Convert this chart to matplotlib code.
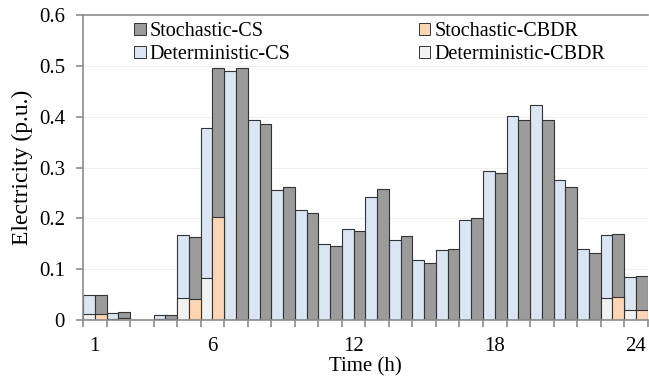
import numpy as np
import matplotlib
matplotlib.use("Agg")
import matplotlib.pyplot as plt
from matplotlib.patches import Patch

plt.rcParams['font.family'] = ['Liberation Serif', 'DejaVu Serif']

hours = np.arange(1, 25)
stoch_cs = [0.050, 0.017, 0.0, 0.010, 0.163, 0.495, 0.496, 0.385, 0.262, 0.210, 0.146, 0.175,
            0.258, 0.166, 0.113, 0.139, 0.201, 0.290, 0.394, 0.394, 0.262, 0.133, 0.170, 0.086]
det_cs = [0.050, 0.015, 0.0, 0.010, 0.168, 0.377, 0.490, 0.393, 0.255, 0.216, 0.149, 0.179,
          0.243, 0.157, 0.118, 0.138, 0.196, 0.294, 0.401, 0.422, 0.276, 0.139, 0.168, 0.084]
stoch_cbdr = [0.012, 0.004, 0.0, 0.002, 0.042, 0.202, 0, 0, 0, 0, 0, 0,
              0, 0, 0, 0, 0, 0, 0, 0, 0, 0, 0.045, 0.021]
det_cbdr = [0.012, 0.003, 0.0, 0.002, 0.044, 0.083, 0, 0, 0, 0, 0, 0,
            0, 0, 0, 0, 0, 0, 0, 0, 0, 0, 0.043, 0.021]
tick_hours = [1, 6, 12, 18, 24]
y_ticks = [0, 0.1, 0.2, 0.3, 0.4, 0.5, 0.6]
y_labels = ['0', '0.1', '0.2', '0.3', '0.4', '0.5', '0.6']

c_stoch_cs = '#9b9b9b'
c_det_cs = '#dce6f2'
c_stoch_cbdr = '#fcd5b5'
c_det_cbdr = '#f2f2f2'
edge = '#333333'
axis_col = '#8c8c8c'

fig = plt.figure(figsize=(6.49, 3.83), dpi=100)
ax = fig.add_axes([0.128, 0.164, 0.870, 0.797])

w = 0.5
kw = dict(width=w, edgecolor=edge, linewidth=0.8, zorder=2)
ax.bar(hours - 0.25, det_cs, color=c_det_cs, **kw)
ax.bar(hours + 0.25, stoch_cs, color=c_stoch_cs, **kw)
ax.bar(hours - 0.25, det_cbdr, color=c_det_cbdr, **kw)
ax.bar(hours + 0.25, stoch_cbdr, color=c_stoch_cbdr, **kw)

ax.set_xlim(0.5, 24.5)
ax.set_ylim(0, 0.6)
ax.set_yticks(y_ticks)
ax.set_yticklabels(y_labels)
ax.set_xticks(tick_hours)
ax.set_xticklabels([str(h) for h in tick_hours])
ax.set_xticks(np.arange(0.5, 25, 1), minor=True)
ax.tick_params(axis='x', which='major', length=0, labelsize=15, pad=12)
ax.tick_params(axis='x', which='minor', length=5, width=1.2, color=axis_col, direction='out')
ax.tick_params(axis='y', length=5, width=1.2, color=axis_col, labelsize=15, pad=8)

for y in y_ticks[1:-1]:
    ax.axhline(y, color='#f0f0f0', linewidth=0.8, zorder=0)

for s in ['left', 'bottom', 'top']:
    ax.spines[s].set_color(axis_col)
    ax.spines[s].set_linewidth(1.2)
ax.spines['right'].set_visible(False)

ax.set_xlabel('Time (h)', fontsize=15, labelpad=1)
ax.set_ylabel('Electricity (p.u.)', fontsize=17, labelpad=4)

handles = [Patch(facecolor=c_stoch_cs, edgecolor=edge, linewidth=0.7),
           Patch(facecolor=c_det_cs, edgecolor=edge, linewidth=0.7),
           Patch(facecolor=c_stoch_cbdr, edgecolor=edge, linewidth=0.7),
           Patch(facecolor=c_det_cbdr, edgecolor=edge, linewidth=0.7)]
labels = ['Stochastic-CS', 'Deterministic-CS', 'Stochastic-CBDR', 'Deterministic-CBDR']
ax.legend(handles, labels, ncol=2, frameon=False, fontsize=14.5,
          loc='upper left', bbox_to_anchor=(0.066, 1.022),
          handlelength=0.55, handleheight=0.55, handletextpad=0.2,
          columnspacing=6.4, labelspacing=0.2, borderpad=0.2)

fig.savefig('out.png', dpi=100)
